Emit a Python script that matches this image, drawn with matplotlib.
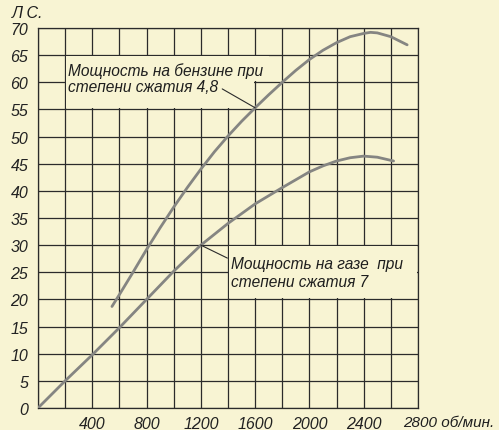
import matplotlib
matplotlib.use("Agg")
import matplotlib.pyplot as plt
from matplotlib.patches import Polygon

# engine power vs rpm
rpm_petrol = [545, 600, 700, 800, 900, 1000, 1100, 1200, 1300, 1400, 1500, 1600,
              1700, 1800, 1900, 2000, 2100, 2200, 2300, 2400, 2450, 2500, 2600, 2720]
hp_petrol = [18.7, 20.9, 25.0, 29.2, 33.2, 37.0, 40.6, 44.0, 47.2, 50.1, 52.8, 55.3,
             57.7, 60.0, 62.2, 64.2, 65.9, 67.3, 68.4, 69.0, 69.2, 69.1, 68.4, 66.9]

rpm_gas = [0, 200, 400, 600, 800, 1000, 1200, 1400, 1600, 1800, 2000, 2100,
           2200, 2300, 2400, 2500, 2620]
hp_gas = [0, 5.0, 9.8, 14.8, 20.0, 25.2, 30.0, 34.0, 37.6, 40.6, 43.5, 44.6,
          45.5, 46.1, 46.4, 46.2, 45.5]

x_ticks = list(range(0, 2801, 200))
y_ticks = list(range(0, 71, 5))

label_petrol = ["Мощность на бензине при", "степени сжатия 4,8"]
label_gas = ["Мощность на газе  при", "степени сжатия 7"]

bg = "#f8f4d3"
ink = "#2b2b2b"
curve_col = "#858582"
font = ["Liberation Sans", "DejaVu Sans"]

fig = plt.figure(figsize=(4.99, 4.31), dpi=100, facecolor=bg)
ax = fig.add_axes([38 / 499, 1 - 409 / 431, 380 / 499, 380 / 431])
ax.set_facecolor(bg)
ax.set_xlim(0, 2800)
ax.set_ylim(0, 70)
ax.set_axisbelow(True)

ax.set_xticks(x_ticks)
ax.set_xticklabels(["" if (t % 400 or t in (0, 2800)) else str(t) for t in x_ticks])
ax.set_yticks(y_ticks)
ax.set_yticklabels([str(t) for t in y_ticks])
ax.tick_params(length=0, labelsize=11.5, colors="#222222")
ax.tick_params(axis="x", pad=6)
ax.tick_params(axis="y", pad=7)
for lab in ax.get_xticklabels() + ax.get_yticklabels():
    lab.set_fontstyle("italic")
    lab.set_family(font)
ax.grid(True, color=ink, linewidth=0.9)
for s in ax.spines.values():
    s.set_color(ink)
    s.set_linewidth(0.9)

# blank areas behind the captions (grid erased there)
ax.add_patch(Polygon([(208, 55.2), (1592, 55.2), (1592, 60.2), (1700, 60.2),
                      (1700, 64.8), (208, 64.8)], closed=True,
                     facecolor=bg, edgecolor="none", zorder=1))
ax.add_patch(Polygon([(1408, 20.2), (2792, 20.2), (2792, 29.8), (1408, 29.8)],
                     closed=True, facecolor=bg, edgecolor="none", zorder=1))

ax.plot(rpm_petrol, hp_petrol, color=curve_col, linewidth=2.0, zorder=3,
        solid_capstyle="round")
ax.plot(rpm_gas, hp_gas, color=curve_col, linewidth=2.0, zorder=3,
        solid_capstyle="round")

txt = dict(fontsize=11.2, fontstyle="italic", family=font, color="#1e1e1e",
           va="center", ha="left", zorder=4)
ax.text(222, 62.3, label_petrol[0], **txt)
ax.annotate(label_petrol[1], xy=(1600, 55.3), xytext=(222, 59.2),
            arrowprops=dict(arrowstyle="-", color=ink, linewidth=0.8,
                            relpos=(1, 0.5), shrinkA=1, shrinkB=0), **txt)
ax.annotate(label_gas[0], xy=(1200, 30), xytext=(1425, 26.7),
            arrowprops=dict(arrowstyle="-", color=ink, linewidth=0.8,
                            relpos=(0, 0.7), shrinkA=1, shrinkB=0), **txt)
ax.text(1425, 23.3, label_gas[1], **txt)

fig.text(12 / 499, 1 - 14 / 431, "Л С.", fontsize=11.5, fontstyle="italic",
         family=font, color="#1e1e1e", va="center", ha="left")
ax.text(2690, -0.018, "2800 об/мин.", transform=ax.get_xaxis_transform(),
        fontsize=11, fontstyle="italic", family=font, color="#1e1e1e",
        va="top", ha="left")

fig.savefig("out.png", dpi=100, facecolor=bg)
